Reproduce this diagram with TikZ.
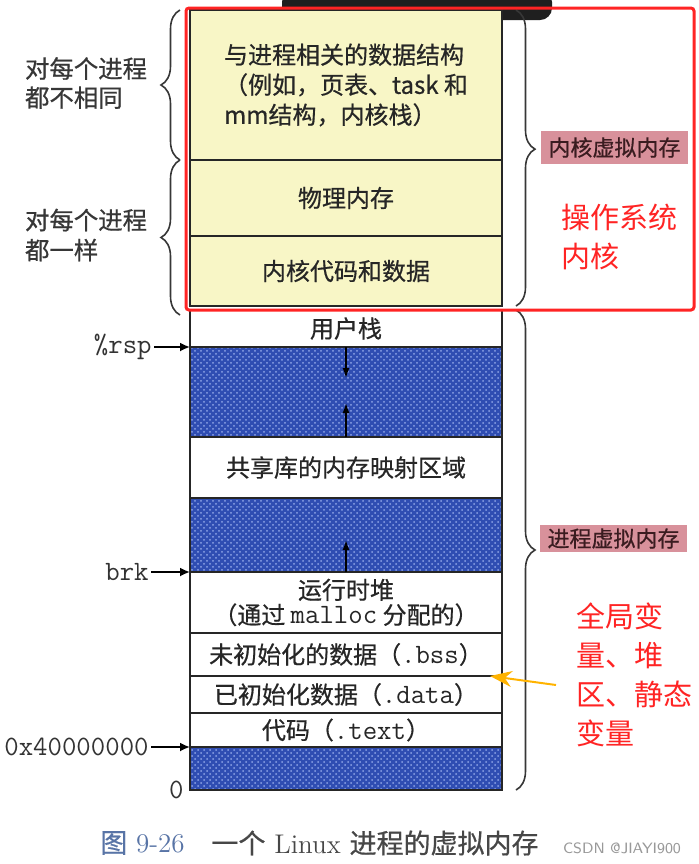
\documentclass[tikz,border=0pt]{standalone}
\usepackage{fontspec}
\usepackage{tikz}
\usetikzlibrary{arrows.meta,positioning,calc,patterns,decorations.pathreplacing}
\newfontfamily\cjk{Noto Sans CJK SC}
\newfontfamily\cjkb[FakeBold=0.6]{Noto Sans CJK SC}
\definecolor{kernyel}{HTML}{F8F6C6}
\definecolor{holeblue}{HTML}{2F4DB2}
\definecolor{dotblue}{HTML}{8EA4E6}
\definecolor{tagpink}{HTML}{D8919B}
\definecolor{tagtext}{HTML}{3A1C20}
\definecolor{markred}{HTML}{FF2424}
\definecolor{markorange}{HTML}{FFB300}
\definecolor{capblue}{HTML}{5874A6}
\definecolor{grisC}{RGB}{55,55,55}
\newcommand{\mono}[1]{{\ttfamily\fontsize{14}{16}\selectfont #1}}
\tikzset{
  seg/.style={rectangle, draw=black!85, line width=1pt, fill=#1, minimum width=156pt,
              inner sep=0pt, outer sep=0pt, align=center, text=black!85,
              font=\cjkb\fontsize{12}{12.5}\selectfont},
  hole/.style={rectangle, draw=black!85, line width=1pt, preaction={fill=holeblue},
               pattern=crosshatch dots, pattern color=dotblue, minimum width=156pt,
               inner sep=0pt, outer sep=0pt},
  addr/.style={inner sep=1pt, font=\ttfamily\fontsize{14}{16}\selectfont, text=black!80},
  ptr/.style={-{Latex[length=5pt,width=4.5pt]}, line width=0.9pt},
  growarr/.style={-{Latex[length=5pt,width=3.5pt]}, line width=0.8pt},
  brc/.style={decorate, decoration={brace, amplitude=9.5pt, #1}, line width=0.8pt, draw=grisC},
  brc/.default={aspect=0.5},
  tagbox/.style={fill=tagpink, text=tagtext, font=\cjkb\fontsize{11}{11}\selectfont,
              minimum width=73.5pt, minimum height=16.5pt, inner sep=0pt},
  sidetext/.style={anchor=west, align=left, text=grisC, font=\cjkb\fontsize{12.2}{14.5}\selectfont},
  notetext/.style={anchor=west, align=left, text=markred, font=\cjk\fontsize{14.5}{19.5}\selectfont},
  callout/.style={-{Stealth[length=11pt,width=8pt]}, line width=1pt, draw=markorange},
  captext/.style={anchor=west, inner sep=0pt, font=\fontsize{13.5}{14}\selectfont},
}
\begin{document}
\begin{tikzpicture}[x=0.5pt, y=-0.5pt]
  \useasboundingbox[fill=white] (0,0) rectangle (699,864);
  \fill[black!88, rounded corners=6pt] (282,-10) rectangle (552,20);

  \node[seg=kernyel, minimum height=75pt, anchor=north, align=left,
        font={\cjkb\fontsize{12}{15}\selectfont}] (ds) at (346,10)
        {与进程相关的数据结构\\（例如，页表、task 和\\mm结构，内核栈）};
  \node[seg=kernyel, minimum height=38pt, below=0pt of ds] (phys) {物理内存};
  \node[seg=kernyel, minimum height=35pt, below=0pt of phys] (kcode) {内核代码和数据};
  \node[seg=white, minimum height=18.5pt, below=2pt of kcode] (ustack) {用户栈};
  \node[hole, minimum height=45pt, below=0pt of ustack] (gap1) {};
  \node[seg=white, minimum height=30.5pt, below=0pt of gap1] (shlib) {共享库的内存映射区域};
  \node[hole, minimum height=37pt, below=0pt of shlib] (gap2) {};
  \node[seg=white, minimum height=30.5pt, below=0pt of gap2] (heap) {运行时堆\\（通过 \mono{malloc} 分配的）};
  \node[seg=white, minimum height=21.5pt, below=0pt of heap] (bss) {未初始化的数据（\mono{.bss}）};
  \node[seg=white, minimum height=18.5pt, below=0pt of bss] (data) {已初始化数据（\mono{.data}）};
  \node[seg=white, minimum height=17pt, below=0pt of data] (code) {代码（\mono{.text}）};
  \node[hole, minimum height=21.5pt, below=0pt of code] (gap3) {};

  \coordinate[below=15.5pt of gap1.north] (stktip);
  \coordinate[above=17pt of gap1.south] (mmtip);
  \coordinate[above=16pt of gap2.south] (heaptip);
  \draw[growarr] (gap1.north) -- (stktip);
  \draw[growarr] (gap1.south) -- (mmtip);
  \draw[growarr] (gap2.south) -- (heaptip);

  \node[addr, left=18pt of gap1.north west] (rsp) {\%rsp};
  \node[addr, left=19.5pt of gap2.south west] (brk) {brk};
  \node[addr, left=19.5pt of gap3.north west] (base) {0x40000000};
  \node[addr, left=2pt of gap3.south west] (zero) {0};
  \draw[ptr] (rsp.east) -- (gap1.north west);
  \draw[ptr] (brk.east) -- (gap2.south west);
  \draw[ptr] (base.east) -- (gap3.north west);

  \draw[brc] ([xshift=-5pt]ds.south west) -- ([xshift=-5pt]ds.north west);
  \draw[brc] ([xshift=-5pt,yshift=-4.5pt]kcode.south west) -- ([xshift=-5pt]phys.north west);
  \draw[brc={aspect=0.47}] ([xshift=7pt]ds.north east) -- ([xshift=7pt]kcode.south east);
  \draw[brc] ([xshift=7pt]ustack.north east) -- ([xshift=7pt]gap3.south east);

  \node[sidetext] (diff) at (18,83) {对每个进程\\都不相同};
  \node[sidetext, font={\cjkb\fontsize{12.2}{15}\selectfont}] (same) at (18,235) {对每个进程\\都一样};
  \node[tagbox] (ktag) at (614.5,147.5) {内核虚拟内存};
  \node[tagbox, minimum height=13.5pt] (ptag) at (613.5,538.5) {进程虚拟内存};

  \draw[markred, line width=1.5pt, rounded corners=1.5pt] (186,8) rectangle (694,310);
  \node[notetext] (oskern) at (554,236.5) {操作系统\\内核};
  \node[notetext] (globals) at (569,675) {全局变\\量、堆\\区、静态\\变量};
  \coordinate (gtail) at (556,685);
  \draw[callout] (gtail) -- ([xshift=-6pt]bss.south east);

  \node[captext, text=capblue] (fignum) at (100,843) {{\cjkb 图} 9-26};
  \node[captext, text=black!72, right=13pt of fignum] (figtitle) {{\cjkb 一个} Linux {\cjkb 进程的虚拟内存}};
  \node[anchor=east, text=black!40, font=\sffamily\fontsize{7.5}{8}\selectfont] (wm) at (688,848) {CSDN @JIAYI900};
\end{tikzpicture}
\end{document}
